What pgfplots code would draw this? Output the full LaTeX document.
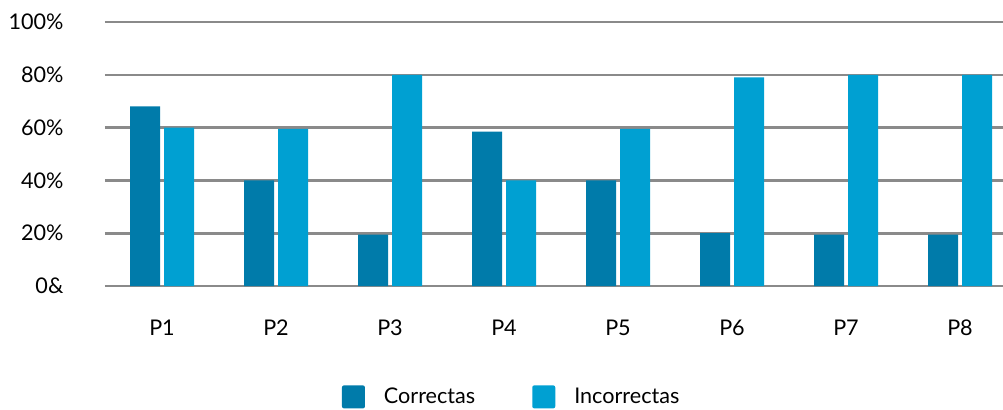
\documentclass[border=0pt]{standalone}
\usepackage{pgfplots}
\pgfplotsset{compat=1.18}
\usepackage{fontspec}
\setmainfont{Lato}
\definecolor{cdark}{HTML}{007BAA}
\definecolor{clight}{HTML}{00A0D2}
\definecolor{cgrid}{HTML}{8A8A8A}
\newcommand{\fs}{\fontsize{10.8}{13}\selectfont}
\begin{document}
\fs
\begin{tikzpicture}
\useasboundingbox (0,0) rectangle (501.5pt,204.5pt);
\begin{axis}[
  at={(52.5pt,61.5pt)}, anchor=south west,
  scale only axis, width=449pt, height=132pt,
  xmin=-0.5, xmax=7.377, ymin=0, ymax=100,
  axis line style={draw=none},
  ybar, bar width=15pt,
  xtick={0,1,2,3,4,5,6,7},
  xticklabels={P1,P2,P3,P4,P5,P6,P7,P8},
  ytick={0,20,40,60,80,100},
  yticklabels={0\&,20\%,40\%,60\%,80\%,100\%},
  major tick length=0pt,
  ymajorgrids, grid style={cgrid, line width=1.3pt},
  xticklabel style={yshift=-13pt, font=\fs},
  yticklabel style={xshift=-17pt, font=\fs},
  legend columns=2,
  legend style={draw=none, fill=none, at={(0.454,-0.42)}, anchor=center,
    font=\fs,
    /tikz/every odd column/.append style={column sep=7.5pt},
    /tikz/every even column/.append style={column sep=26.5pt}},
  legend image code/.code={\fill[#1, rounded corners=1pt] (0pt,-5.75pt) rectangle (11.5pt,5.75pt);},
  every axis plot/.append style={draw=none},
]
\addplot[fill=cdark, bar shift=-8.5pt] coordinates {(0,68) (1,40) (2,19.5) (3,58.5) (4,40) (5,20) (6,19.5) (7,19.5)};
\addplot[fill=clight, bar shift=8.5pt] coordinates {(0,60) (1,59.5) (2,80) (3,40) (4,59.5) (5,79) (6,80) (7,80)};
\legend{Correctas, Incorrectas}
\end{axis}
\end{tikzpicture}
\end{document}
